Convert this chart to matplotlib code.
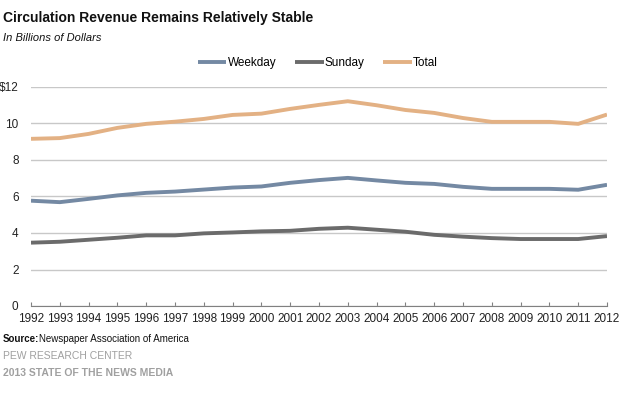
import numpy as np
import matplotlib
matplotlib.use("Agg")
import matplotlib.pyplot as plt

years = list(range(1992, 2013))
weekday = [5.77, 5.69, 5.87, 6.06, 6.20, 6.27, 6.38, 6.49, 6.55, 6.75, 6.90,
           7.02, 6.88, 6.75, 6.69, 6.53, 6.42, 6.42, 6.42, 6.37, 6.64]
sunday = [3.47, 3.52, 3.63, 3.74, 3.87, 3.87, 3.98, 4.03, 4.09, 4.12, 4.23,
          4.29, 4.18, 4.07, 3.90, 3.80, 3.72, 3.67, 3.67, 3.67, 3.83]
total = [9.16, 9.20, 9.43, 9.76, 9.98, 10.10, 10.25, 10.47, 10.54, 10.80, 11.02,
         11.22, 11.00, 10.74, 10.58, 10.30, 10.09, 10.09, 10.09, 9.98, 10.49]
yticks = [0, 2, 4, 6, 8, 10, 12]
ytick_labels = ["0", "2", "4", "6", "8", "10", "$12"]

plt.rcParams['font.family'] = ['Liberation Sans', 'DejaVu Sans']

fig = plt.figure(figsize=(6.28, 3.93), dpi=100)
ax = fig.add_axes([31/628, 1 - 306/393, 576/628, 219/393])

ax.plot(years, weekday, color='#7489a3', lw=2.8, label='Weekday', solid_capstyle='butt')
ax.plot(years, sunday, color='#6b6b6b', lw=2.8, label='Sunday', solid_capstyle='butt')
ax.plot(years, total, color='#e3b184', lw=2.8, label='Total', solid_capstyle='butt')

ax.set_xlim(1992, 2012)
ax.set_ylim(0, 12)
ax.set_yticks(yticks)
ax.set_yticklabels(ytick_labels)
ax.set_xticks(years)
ax.set_xticklabels([str(y) for y in years])
ax.grid(axis='y', color='#c8c8c8', lw=1)
ax.set_axisbelow(True)
for s in ['top', 'right', 'left']:
    ax.spines[s].set_visible(False)
ax.spines['bottom'].set_color('#808080')
ax.tick_params(axis='y', length=0, pad=9, labelsize=8.5, colors='#222222')
ax.tick_params(axis='x', direction='in', length=3, color='#808080', pad=5,
               labelsize=8.5, labelcolor='#222222')

fig.legend(loc='center', bbox_to_anchor=(318/628, 1 - 63/393), ncol=3, frameon=False,
           fontsize=8.5, handlelength=2.4, handletextpad=0.1, columnspacing=1.6)

fig.text(3/628, 1 - 18/393, "Circulation Revenue Remains Relatively Stable",
         fontsize=10, fontweight='bold', color='#111111', va='center')
fig.text(3/628, 1 - 38/393, "In Billions of Dollars", fontsize=8, style='italic',
         color='#111111', va='center')
fig.text(3/628, 1 - 339/393, "Source:", fontsize=7, fontweight='bold',
         color='#111111', va='center')
fig.text(39/628, 1 - 339/393, "Newspaper Association of America", fontsize=7,
         color='#111111', va='center')
fig.text(3/628, 1 - 356/393, "PEW RESEARCH CENTER", fontsize=7.5,
         color='#a0a0a0', va='center')
fig.text(3/628, 1 - 373/393, "2013 STATE OF THE NEWS MEDIA", fontsize=7.5,
         fontweight='bold', color='#a0a0a0', va='center')

fig.savefig('out.png', dpi=100)
